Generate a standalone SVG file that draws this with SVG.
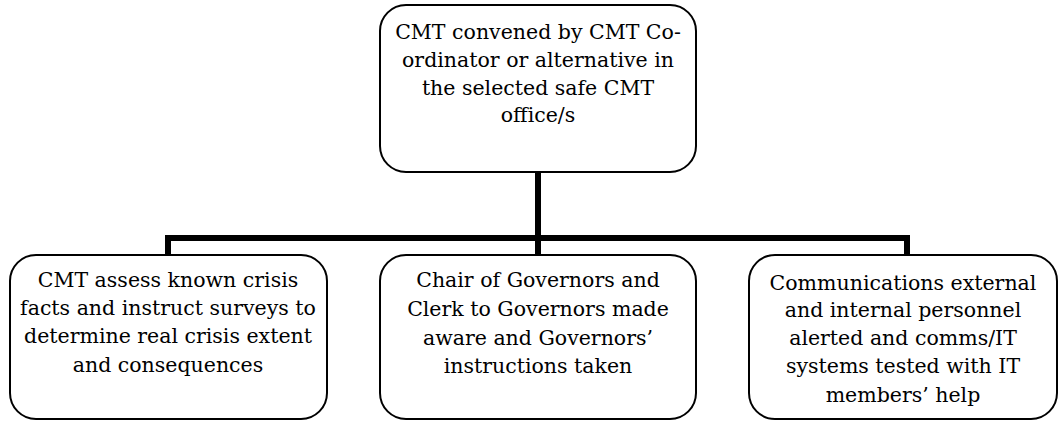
<svg xmlns="http://www.w3.org/2000/svg" width="1059" height="421" viewBox="0 0 1059 421">
<style>
.box{fill:#fff;stroke:#000;stroke-width:2}
.t{font-family:"DejaVu Serif","Liberation Serif",serif;font-size:20.5px;fill:#000;text-anchor:middle}
.c{fill:none;stroke:#000;stroke-width:6}
</style>
<rect width="1059" height="421" fill="#fff"/>
<g id="connectors">
<path class="c" d="M538 172V238M168 256V238H907V256M538 238V256"/>
</g>
<g id="top">
<rect class="box" x="380" y="5" width="316" height="167" rx="26"/>
<text class="t" x="538" y="39">CMT convened by CMT Co-</text>
<text class="t" x="538" y="67">ordinator or alternative in</text>
<text class="t" x="538" y="95">the selected safe CMT</text>
<text class="t" x="538" y="122">office/s</text>
</g>
<g id="left">
<rect class="box" x="10" y="255" width="317" height="164" rx="26"/>
<text class="t" x="168" y="287">CMT assess known crisis</text>
<text class="t" x="168" y="315">facts and instruct surveys to</text>
<text class="t" x="168" y="343">determine real crisis extent</text>
<text class="t" x="168" y="372">and consequences</text>
</g>
<g id="middle">
<rect class="box" x="380" y="255" width="316" height="164" rx="26"/>
<text class="t" x="538" y="287">Chair of Governors and</text>
<text class="t" x="538" y="316">Clerk to Governors made</text>
<text class="t" x="538" y="345">aware and Governors’</text>
<text class="t" x="538" y="373">instructions taken</text>
</g>
<g id="right">
<rect class="box" x="749" y="255" width="308" height="164" rx="26"/>
<text class="t" x="903" y="290">Communications external</text>
<text class="t" x="903" y="317">and internal personnel</text>
<text class="t" x="903" y="345">alerted and comms/IT</text>
<text class="t" x="903" y="373">systems tested with IT</text>
<text class="t" x="903" y="402">members’ help</text>
</g>
</svg>
